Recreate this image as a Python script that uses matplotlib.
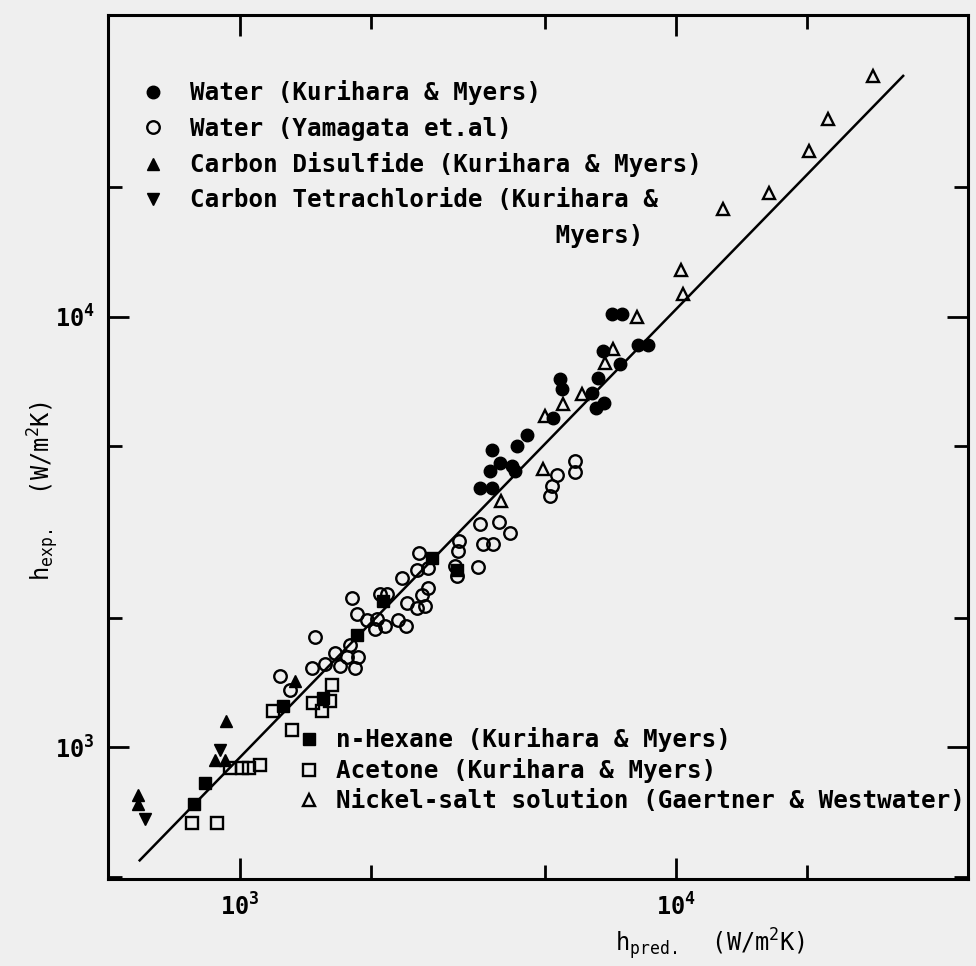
import matplotlib
matplotlib.use("Agg")
import matplotlib.pyplot as plt
from matplotlib.ticker import LogLocator, LogFormatterMathtext, NullFormatter
from matplotlib.lines import Line2D

plt.rcParams['font.family'] = ['DejaVu Sans Mono']
plt.rcParams['font.weight'] = 'bold'
plt.rcParams['mathtext.default'] = 'regular'

# Water (Kurihara & Myers) - filled circles
water_km_x = [3784, 4315, 4550, 5224, 5420, 5483, 6412, 6561, 6839, 6622, 6808,
              7129, 7516, 7447, 8185, 8630, 3741, 3945, 4207, 4276, 3550, 3784]
water_km_y = [4890, 5020, 5300, 5830, 7180, 6810, 6660, 6120, 6310, 7220, 8340,
              10160, 10160, 7780, 8570, 8570, 4390, 4580, 4510, 4390, 4010, 4010]

# Water (Yamagata et.al) - open circles
water_ya_x = [1235, 1303, 1486, 1462, 1567, 1652, 1695, 1758, 1866, 1836, 1787,
              1954, 2061, 2041, 2152, 2301, 2403, 1854, 1807, 2094, 2173, 2415,
              2547, 2655, 2353, 2547, 2698, 2698, 2612, 2575, 3178, 3162, 3112,
              3146, 3515, 3550, 3926, 4159, 3606, 3802, 5140, 5200, 5333, 5865, 5865]
water_ya_y = [1469, 1356, 1800, 1533, 1566, 1660, 1549, 1618, 1618, 1533, 1726,
              1972, 1991, 1888, 1919, 1972, 1919, 2046, 2218, 2275, 2275, 2169,
              2102, 2134, 2480, 2575, 2615, 2350, 2253, 2820, 3020, 2860, 2640,
              2505, 2630, 3310, 3330, 3140, 2970, 2970, 3840, 4050, 4280, 4630, 4350]

# Carbon Disulfide (Kurihara & Myers) - filled triangles
cs2_x = [586, 586, 929, 877, 924, 1337]
cs2_y = [774, 741, 1149, 933, 933, 1430]

# Carbon Tetrachloride (Kurihara & Myers) - filled down triangles
ccl4_x = [608, 900]
ccl4_y = [684, 984]

# n-Hexane (Kurihara & Myers) - filled squares
hexane_x = [784, 832, 1255, 1549, 1854, 2128, 2755, 3146]
hexane_y = [738, 825, 1251, 1306, 1820, 2193, 2760, 2575]

# Acetone (Kurihara & Myers) - open squares
acetone_x = [776, 885, 949, 1011, 1048, 1111, 1191, 1316, 1470, 1542, 1607, 1625]
acetone_y = [667, 667, 894, 894, 894, 909, 1218, 1095, 1271, 1218, 1285, 1393]

# Nickel-salt solution (Gaertner & Westwater) - open triangles
nickel_x = [28310, 22320, 20180, 16330, 12820, 10260, 10380, 8144, 7178, 6871,
            6081, 5508, 5012, 4955, 3969]
nickel_y = [36240, 28780, 24270, 19400, 17810, 12850, 11300, 10000, 8430, 7820,
            6630, 6280, 5890, 4440, 3740]

# correlation line
fit_x = [590, 33200]
fit_y = [547, 36200]

bg = '#efefef'
fig = plt.figure(figsize=(9.76, 9.66), dpi=100, facecolor=bg)
ax = fig.add_axes([0.111, 0.090, 0.881, 0.894], facecolor=bg)

ax.plot(fit_x, fit_y, color='black', lw=1.8)

ms = 9
mew = 1.7
ax.plot(water_km_x, water_km_y, 'o', color='black', ms=ms, ls='none')
ax.plot(water_ya_x, water_ya_y, 'o', mfc='none', mec='black', mew=mew, ms=ms, ls='none')
ax.plot(cs2_x, cs2_y, '^', color='black', ms=ms, ls='none')
ax.plot(ccl4_x, ccl4_y, 'v', color='black', ms=ms, ls='none')
ax.plot(hexane_x, hexane_y, 's', color='black', ms=8, ls='none')
ax.plot(acetone_x, acetone_y, 's', mfc='none', mec='black', mew=mew, ms=8, ls='none')
ax.plot(nickel_x, nickel_y, '^', mfc='none', mec='black', mew=mew, ms=ms, ls='none')

ax.set_xscale('log')
ax.set_yscale('log')
ax.set_xlim(500, 46800)
ax.set_ylim(495, 50000)

for axis in (ax.xaxis, ax.yaxis):
    axis.set_major_locator(LogLocator(base=10, numticks=10))
    axis.set_major_formatter(LogFormatterMathtext())
    axis.set_minor_locator(LogLocator(base=10, subs=(2.0, 5.0), numticks=10))
    axis.set_minor_formatter(NullFormatter())

ax.tick_params(which='both', direction='in', top=True, right=True, width=2,
               labelsize=17, colors='black')
ax.tick_params(which='major', length=15, pad=10)
ax.tick_params(which='minor', length=10)
for sp in ax.spines.values():
    sp.set_linewidth(2.2)

ax.set_xlabel('h$_{pred.}$  (W/m$^{2}$K)', fontsize=17)
ax.set_ylabel('h$_{exp.}$  (W/m$^{2}$K)', fontsize=17)
ax.xaxis.set_label_coords(0.70, -0.055)
ax.yaxis.set_label_coords(-0.055, 0.45)

def h(marker, filled):
    if filled:
        return Line2D([], [], marker=marker, color='black', ls='none', ms=ms)
    return Line2D([], [], marker=marker, mfc='none', mec='black', mew=mew, ls='none', ms=ms)

blank = Line2D([], [], ls='none', marker=None)

leg1 = ax.legend([h('o', True), h('o', False), h('^', True), h('v', True), blank],
                 ['Water (Kurihara & Myers)',
                  'Water (Yamagata et.al)',
                  'Carbon Disulfide (Kurihara & Myers)',
                  'Carbon Tetrachloride (Kurihara &',
                  ' ' * 25 + 'Myers)'],
                 loc='upper left', bbox_to_anchor=(0.038, 0.925), frameon=False,
                 borderpad=0, handlelength=1, handletextpad=1.0, labelspacing=0.47,
                 fontsize=17.5, borderaxespad=0)
ax.add_artist(leg1)

ax.legend([h('s', True), h('s', False), h('^', False)],
          ['n-Hexane (Kurihara & Myers)',
           'Acetone (Kurihara & Myers)',
           'Nickel-salt solution (Gaertner & Westwater)'],
          loc='upper left', bbox_to_anchor=(0.219, 0.176), frameon=False,
          borderpad=0, handlelength=1, handletextpad=0.6, labelspacing=0.25,
          fontsize=17.5, borderaxespad=0)

fig.savefig('out.png', dpi=100, facecolor=bg)
